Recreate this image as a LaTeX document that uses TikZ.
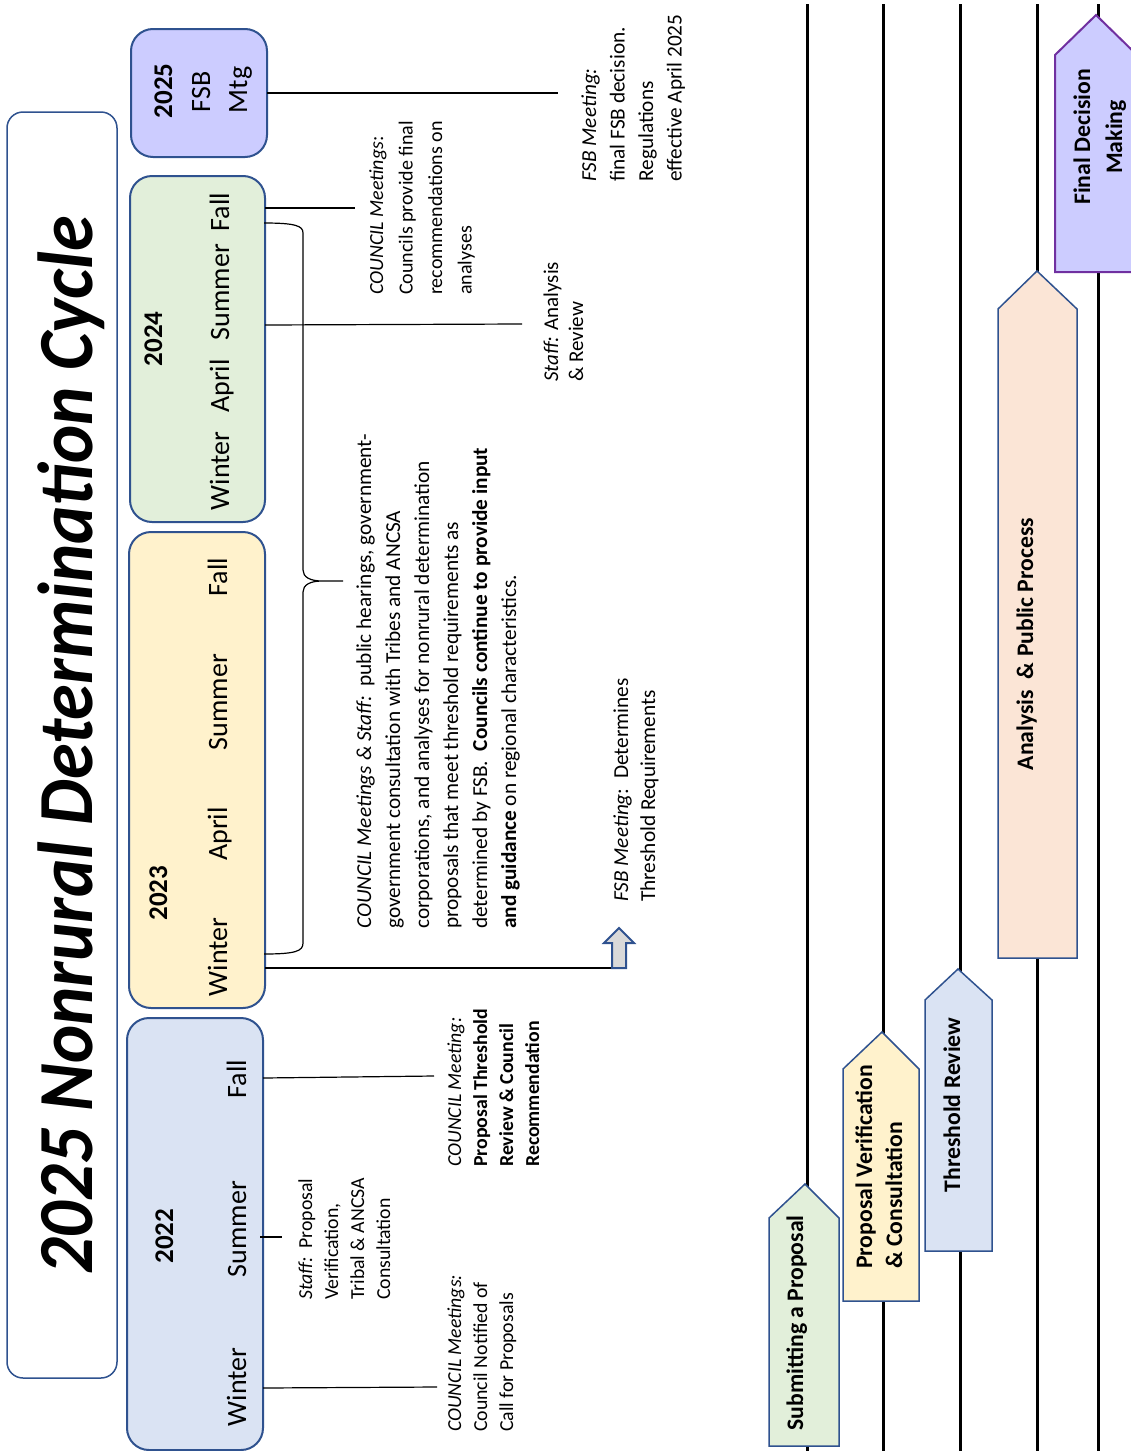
\documentclass[tikz,border=0pt]{standalone}
\usepackage{fontspec}
\setmainfont{Carlito}
\usepackage{tikz}
\usetikzlibrary{positioning}
\definecolor{BoxLine}{HTML}{2F528F}
\definecolor{PaleBlue}{HTML}{DAE3F3}
\definecolor{PaleYellow}{HTML}{FFF2CC}
\definecolor{PaleGreen}{HTML}{E2EFDA}
\definecolor{Lavender}{HTML}{CCCCFF}
\definecolor{Peach}{HTML}{FBE5D6}
\definecolor{ArrowGray}{HTML}{D9D9D9}
\definecolor{Plum}{HTML}{7030A0}

\begin{document}
\begin{tikzpicture}[x=1pt,y=-1pt]
		\tikzstyle{Frame}	= [draw=BoxLine, line width=1.5pt, rounded corners=16pt, fill=white]
		\tikzstyle{YearBox}	= [draw=BoxLine, line width=2pt, rounded corners=22pt, inner sep=0pt]
		\tikzstyle{Season}	= [rotate=90, anchor=base, inner sep=0pt, font=\fontsize{28}{30}\selectfont]
		\tikzstyle{Year}	= [rotate=90, anchor=base, inner sep=0pt, font=\bfseries\fontsize{27}{30}\selectfont]
		\tikzstyle{Note}	= [rotate=90, anchor=base west, align=left, inner sep=0pt, font=\fontsize{19.8}{26}\selectfont]
		\tikzstyle{BigNote}	= [Note, font=\fontsize{21.3}{29}\selectfont]
		\tikzstyle{Link}	= [line width=1.2pt, black]
		\tikzstyle{Track}	= [line width=3pt, black]
		\tikzstyle{Phase}	= [draw=BoxLine, line width=1.5pt, line join=miter]
		\tikzstyle{PhaseText}	= [rotate=90, anchor=base, inner sep=0pt, font=\bfseries\fontsize{23.7}{30}\selectfont]
		
		\useasboundingbox (0,0) rectangle (1131,1451);
		
		\node (tbox) at (62,745) [Frame, minimum width=110pt, minimum height=1266pt] {};
		\node (title) at (92,1275) [rotate=90, anchor=base west, inner sep=0pt, font=\bfseries\itshape\fontsize{78}{80}\selectfont] {\scalebox{0.93}[1]{2025 Nonrural Determination Cycle}};
		
		\node (y22) at (195,1234) [YearBox, fill=PaleBlue, minimum width=136pt, minimum height=432pt] {};
		\node (y23) at (197,770) [YearBox, fill=PaleYellow, minimum width=136pt, minimum height=476pt] {};
		\node (y24) at (197.5,349) [YearBox, fill=PaleGreen, minimum width=135pt, minimum height=346pt] {};
		\node (y25) at (199,93) [YearBox, fill=Lavender, minimum width=136pt, minimum height=128pt] {};
		
		\node (n22) at (173,1236) [Year] {2022};
		\node (w22) at (246,1387) [Season] {Winter};
		\node (s22) at (246,1229) [Season] {Summer};
		\node (f22) at (246,1079) [Season] {Fall};
		
		\node (n23) at (167,893) [Year] {2023};
		\node (w23) at (227,957) [Season] {Winter};
		\node (a23) at (227,834) [Season] {April};
		\node (s23) at (227,702) [Season] {Summer};
		\node (f23) at (227,577) [Season] {Fall};
		
		\node (n24) at (162,339) [Year] {2024};
		\node (w24) at (229,471) [Season] {Winter};
		\node (a24) at (229,386) [Season] {April};
		\node (s24) at (229,292) [Season] {Summer};
		\node (f24) at (229,212) [Season] {Fall};
		
		\node (n25) at (172,91) [Year] {2025};
		\node (fsb25) at (210,92) [Season] {FSB};
		\node (mtg25) at (247,90) [Season] {Mtg};
		
		\node (cn22) at (513,1432) [Note] {\textit{COUNCIL Meetings:}\\Council Notified of\\Call for Proposals};
		\node (st22) at (390,1300) [Note] {\textit{Staff:}\ \ Proposal\\Verification,\\Tribal \& ANCSA\\Consultation};
		\node (ct22) at (539,1167) [Note] {\textit{COUNCIL Meeting:}\\\textbf{Proposal Threshold}\\\textbf{Review \& Council}\\\textbf{Recommendation}};
		\node (cs23) at (516,929) [BigNote] {\textit{COUNCIL Meetings \& Staff:}\ \ public hearings, government-\\government consultation with Tribes and ANCSA\\corporations, and analyses for nonrural determination\\proposals that meet threshold requirements as\\determined by FSB.\ \ \textbf{Councils continue to provide input}\\\textbf{and guidance} on regional characteristics.};
		\node (fd23) at (655,902) [BigNote, font=\fontsize{21.3}{27}\selectfont] {\textit{FSB Meeting}:\ \ Determines\\Threshold Requirements};
		\node (cf24) at (471.5,295) [Note, font=\fontsize{20}{29.5}\selectfont] {\textit{COUNCIL Meetings}:\\Councils provide final\\recommendations on\\analyses};
		\node (sa24) at (583,382) [Note, font=\fontsize{21}{25}\selectfont] {\textit{Staff:} Analysis\\\& Review};
		\node (fm25) at (681.5,182) [Note, font=\fontsize{21.3}{28.5}\selectfont] {\textit{FSB Meeting:}\\final FSB decision.\\Regulations\\effective April 2025};
		
		\coordinate (w22a) at (263,1388);
		\coordinate (w22b) at (437,1387);
		\coordinate (s22a) at (260,1237);
		\coordinate (s22b) at (282,1237);
		\coordinate (f22a) at (263,1078);
		\coordinate (f22b) at (434,1076);
		\coordinate (w23a) at (265,968);
		\coordinate (s24a) at (265,325);
		\coordinate (s24b) at (522,324);
		\coordinate (f24a) at (265,208);
		\coordinate (f24b) at (355,208);
		\coordinate (m25a) at (267,93);
		\coordinate (m25b) at (558,93);
		\coordinate (bLow) at (264,954);
		\coordinate (bTip) at (343,581);
		\coordinate (bHigh) at (264,223);
		\coordinate (up) at (612,968);
		
		\draw [-] (w22a) to (w22b) [Link];
		\draw [-] (s22a) to (s22b) [Link];
		\draw [-] (f22a) to (f22b) [Link];
		\draw [-] (w23a) to (up) [Link];
		\draw [-] (s24a) to (s24b) [Link];
		\draw [-] (f24a) to (f24b) [Link];
		\draw [-] (m25a) to (m25b) [Link];
		\draw [Link] (bLow) .. controls (296,954) and (303,951) .. (303,943) -- (303,592) .. controls (303,585) and (310,581) .. (322,581) -- (bTip)
			(322,581) .. controls (310,581) and (303,577) .. (303,570) -- (303,233) .. controls (303,226) and (296,223) .. (bHigh);
		\draw [draw=BoxLine, line width=2pt, fill=ArrowGray, line join=miter] (up) -- (612,943) -- (604,943) -- (619,928) -- (634,943) -- (626,943) -- (626,968) -- cycle;
		
		\coordinate (t1) at (807,4);
		\coordinate (t2) at (883,4);
		\coordinate (t3) at (960,4);
		\coordinate (t4) at (1037,4);
		\coordinate (t5) at (1098,4);
		\coordinate (e1) at (807,1451);
		\coordinate (e2) at (883,1451);
		\coordinate (e3) at (960,1451);
		\coordinate (e4) at (1037,1451);
		\coordinate (e5) at (1098,1451);
		\draw [-] (t1) to (e1) [Track];
		\draw [-] (t2) to (e2) [Track];
		\draw [-] (t3) to (e3) [Track];
		\draw [-] (t4) to (e4) [Track];
		\draw [-] (t5) to (e5) [Track];
		
		\draw [Phase, fill=PaleGreen] (769,1446) -- (769,1218) -- (805,1184) -- (839,1218) -- (839,1446) -- cycle;
		\draw [Phase, fill=PaleYellow] (843,1301) -- (843,1069) -- (882,1032) -- (919,1069) -- (919,1301) -- cycle;
		\draw [Phase, fill=PaleBlue] (925,1251) -- (925,1000) -- (958,969) -- (992,1000) -- (992,1251) -- cycle;
		\draw [Phase, fill=Peach] (998,958) -- (998,309) -- (1037,271) -- (1077,309) -- (1077,958) -- cycle;
		\draw [Phase, draw=Plum, line width=2pt, fill=Lavender] (1055,272) -- (1055,55) -- (1096,15) -- (1137,55) -- (1137,272) -- cycle;
		
		\node (p1) at (803,1323) [PhaseText] {Submitting a Proposal};
		\node (p2) at (902,1269) [PhaseText, anchor=base west, align=left] {Proposal Verification\\\& Consultation};
		\node (p3) at (960,1105) [PhaseText] {Threshold Review};
		\node (p4) at (1033,644) [PhaseText] {Analysis\ \ \& Public Process};
		\node (p5) at (1122,137) [PhaseText, align=center, font=\bfseries\fontsize{23.7}{32}\selectfont] {Final Decision\\Making};
	\end{tikzpicture}
\end{document}
